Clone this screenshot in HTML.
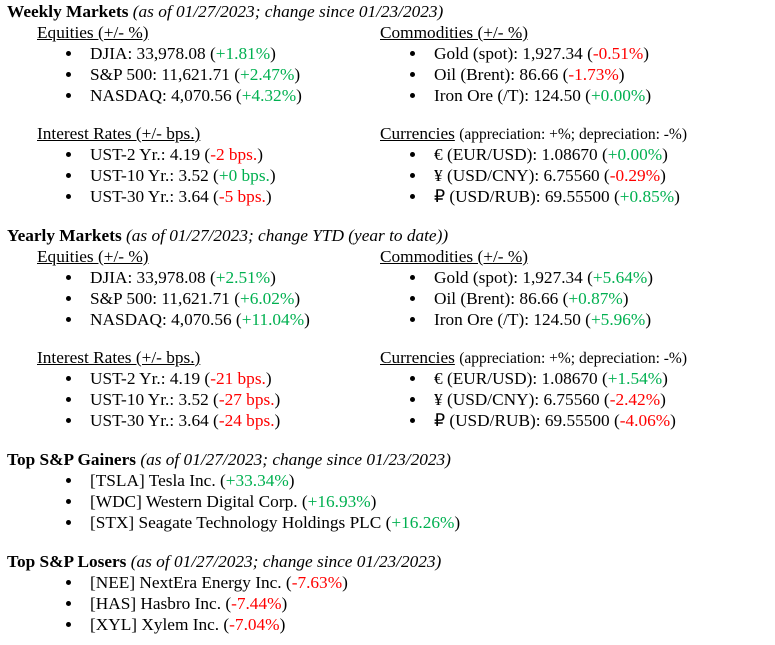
<!DOCTYPE html>
<html><head><meta charset="utf-8"><style>
body{margin:0;width:775px;height:645px;background:#fff;position:relative;font-family:"Liberation Serif",serif;font-size:17.3px;color:#000;overflow:hidden}
.l{position:absolute;white-space:nowrap;line-height:20px}
.b{font-weight:bold}
.u{text-decoration:underline}
.g{color:#00b050}.r{color:#ff0000}
.bl{position:absolute;width:5px;height:5px;border-radius:50%;background:#000}
.s{font-size:15.5px}
</style></head><body>
<div class="l" style="left:7px;top:2px"><span class="b">Weekly Markets</span> <i>(as of 01/27/2023; change since 01/23/2023)</i></div>
<div class="l u" style="left:37px;top:23px">Equities (+/- %)</div>
<div class="l u" style="left:380px;top:23px">Commodities (+/- %)</div>

<div class="l" style="left:90px;top:44px">DJIA: 33,978.08 (<span class="g">+1.81%</span>)</div>
<div class="l" style="left:90px;top:65px">S&amp;P 500: 11,621.71 (<span class="g">+2.47%</span>)</div>
<div class="l" style="left:90px;top:86px">NASDAQ: 4,070.56 (<span class="g">+4.32%</span>)</div>
<div class="l" style="left:434px;top:44px">Gold (spot): 1,927.34 (<span class="r">-0.51%</span>)</div>
<div class="l" style="left:434px;top:65px">Oil (Brent): 86.66 (<span class="r">-1.73%</span>)</div>
<div class="l" style="left:434px;top:86px">Iron Ore (/T): 124.50 (<span class="g">+0.00%</span>)</div>

<div class="l u" style="left:37px;top:124px">Interest Rates (+/- bps.)</div>
<div class="l" style="left:380px;top:124px"><span class="u">Currencies</span> <span class="s">(appreciation: +%; depreciation: -%)</span></div>
<div class="l" style="left:90px;top:145px">UST-2 Yr.: 4.19 (<span class="r">-2 bps.</span>)</div>
<div class="l" style="left:90px;top:166px">UST-10 Yr.: 3.52 (<span class="g">+0 bps.</span>)</div>
<div class="l" style="left:90px;top:187px">UST-30 Yr.: 3.64 (<span class="r">-5 bps.</span>)</div>
<div class="l" style="left:434px;top:145px">€ (EUR/USD): 1.08670 (<span class="g">+0.00%</span>)</div>
<div class="l" style="left:434px;top:166px">¥ (USD/CNY): 6.75560 (<span class="r">-0.29%</span>)</div>
<div class="l" style="left:434px;top:187px">₽ (USD/RUB): 69.55500 (<span class="g">+0.85%</span>)</div>

<div class="l" style="left:7px;top:226px"><span class="b">Yearly Markets</span> <i>(as of 01/27/2023; change YTD (year to date))</i></div>
<div class="l u" style="left:37px;top:247px">Equities (+/- %)</div>
<div class="l u" style="left:380px;top:247px">Commodities (+/- %)</div>
<div class="l" style="left:90px;top:268px">DJIA: 33,978.08 (<span class="g">+2.51%</span>)</div>
<div class="l" style="left:90px;top:289px">S&amp;P 500: 11,621.71 (<span class="g">+6.02%</span>)</div>
<div class="l" style="left:90px;top:310px">NASDAQ: 4,070.56 (<span class="g">+11.04%</span>)</div>
<div class="l" style="left:434px;top:268px">Gold (spot): 1,927.34 (<span class="g">+5.64%</span>)</div>
<div class="l" style="left:434px;top:289px">Oil (Brent): 86.66 (<span class="g">+0.87%</span>)</div>
<div class="l" style="left:434px;top:310px">Iron Ore (/T): 124.50 (<span class="g">+5.96%</span>)</div>

<div class="l u" style="left:37px;top:348px">Interest Rates (+/- bps.)</div>
<div class="l" style="left:380px;top:348px"><span class="u">Currencies</span> <span class="s">(appreciation: +%; depreciation: -%)</span></div>
<div class="l" style="left:90px;top:369px">UST-2 Yr.: 4.19 (<span class="r">-21 bps.</span>)</div>
<div class="l" style="left:90px;top:390px">UST-10 Yr.: 3.52 (<span class="r">-27 bps.</span>)</div>
<div class="l" style="left:90px;top:411px">UST-30 Yr.: 3.64 (<span class="r">-24 bps.</span>)</div>
<div class="l" style="left:434px;top:369px">€ (EUR/USD): 1.08670 (<span class="g">+1.54%</span>)</div>
<div class="l" style="left:434px;top:390px">¥ (USD/CNY): 6.75560 (<span class="r">-2.42%</span>)</div>
<div class="l" style="left:434px;top:411px">₽ (USD/RUB): 69.55500 (<span class="r">-4.06%</span>)</div>

<div class="l" style="left:7px;top:450px"><span class="b">Top S&amp;P Gainers</span> <i>(as of 01/27/2023; change since 01/23/2023)</i></div>
<div class="l" style="left:90px;top:471px">[TSLA] Tesla Inc. (<span class="g">+33.34%</span>)</div>
<div class="l" style="left:90px;top:492px">[WDC] Western Digital Corp. (<span class="g">+16.93%</span>)</div>
<div class="l" style="left:90px;top:513px">[STX] Seagate Technology Holdings PLC (<span class="g">+16.26%</span>)</div>

<div class="l" style="left:7px;top:552px"><span class="b">Top S&amp;P Losers</span> <i>(as of 01/27/2023; change since 01/23/2023)</i></div>
<div class="l" style="left:90px;top:573px">[NEE] NextEra Energy Inc. (<span class="r">-7.63%</span>)</div>
<div class="l" style="left:90px;top:594px">[HAS] Hasbro Inc. (<span class="r">-7.44%</span>)</div>
<div class="l" style="left:90px;top:615px">[XYL] Xylem Inc. (<span class="r">-7.04%</span>)</div>

<div class="bl" style="left:66px;top:51px"></div><div class="bl" style="left:66px;top:72px"></div><div class="bl" style="left:66px;top:93px"></div>
<div class="bl" style="left:410px;top:51px"></div><div class="bl" style="left:410px;top:72px"></div><div class="bl" style="left:410px;top:93px"></div>
<div class="bl" style="left:66px;top:152px"></div><div class="bl" style="left:66px;top:173px"></div><div class="bl" style="left:66px;top:194px"></div>
<div class="bl" style="left:410px;top:152px"></div><div class="bl" style="left:410px;top:173px"></div><div class="bl" style="left:410px;top:194px"></div>
<div class="bl" style="left:66px;top:275px"></div><div class="bl" style="left:66px;top:296px"></div><div class="bl" style="left:66px;top:317px"></div>
<div class="bl" style="left:410px;top:275px"></div><div class="bl" style="left:410px;top:296px"></div><div class="bl" style="left:410px;top:317px"></div>
<div class="bl" style="left:66px;top:376px"></div><div class="bl" style="left:66px;top:397px"></div><div class="bl" style="left:66px;top:418px"></div>
<div class="bl" style="left:410px;top:376px"></div><div class="bl" style="left:410px;top:397px"></div><div class="bl" style="left:410px;top:418px"></div>
<div class="bl" style="left:66px;top:478px"></div><div class="bl" style="left:66px;top:499px"></div><div class="bl" style="left:66px;top:520px"></div>
<div class="bl" style="left:66px;top:580px"></div><div class="bl" style="left:66px;top:601px"></div><div class="bl" style="left:66px;top:622px"></div>
</body></html>
